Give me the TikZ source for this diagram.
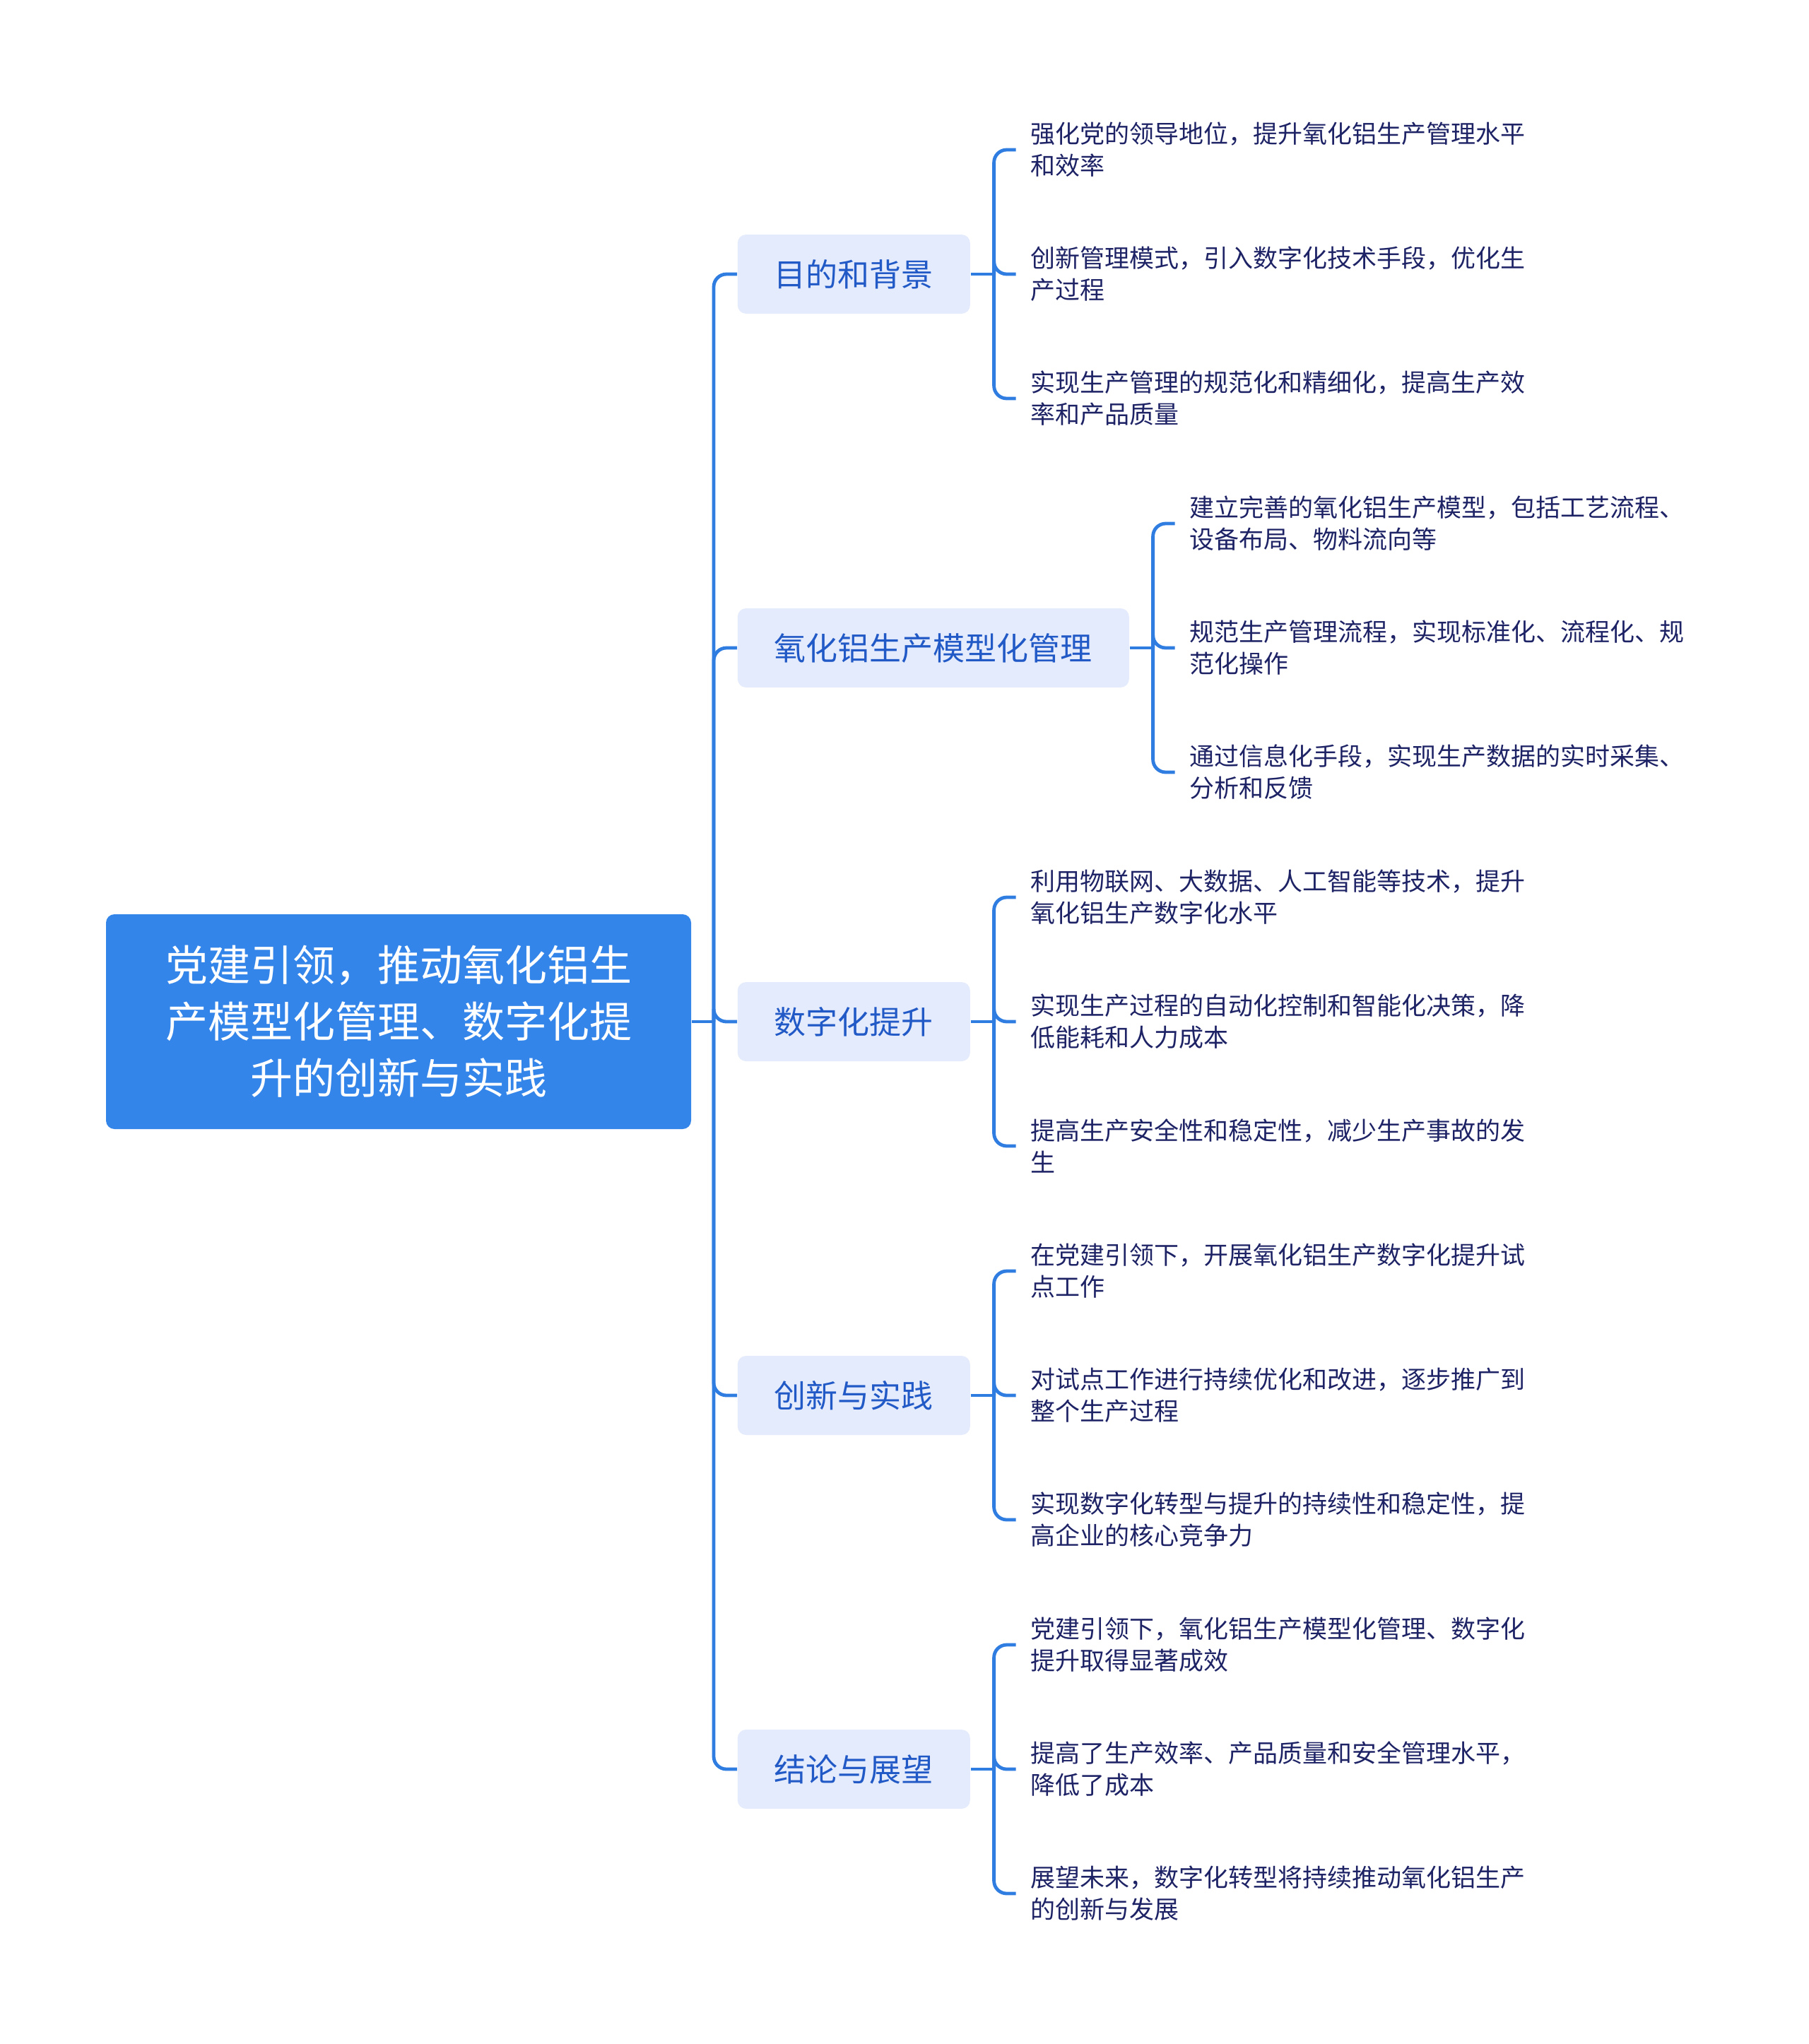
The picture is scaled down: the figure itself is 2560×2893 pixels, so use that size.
\documentclass[tikz,border=0pt]{standalone}
\usepackage{fontspec}
\setmainfont{Noto Sans CJK SC}
\definecolor{linec}{HTML}{2F7DE1}
\definecolor{rootc}{HTML}{3385EA}
\definecolor{branchc}{HTML}{E4EBFC}
\definecolor{branchtext}{HTML}{2159C6}
\definecolor{leafc}{HTML}{1E2366}
\begin{document}
\begin{tikzpicture}[x=0.25pt,y=-0.25pt,
  rootbox/.style={fill=rootc, rounded corners=3pt, minimum width=207pt, minimum height=76pt, text=white, font=\fontsize{15pt}{20pt}\selectfont, align=center, inner sep=0pt},
  branchbox/.style={fill=branchc, rounded corners=3pt, minimum height=28pt, inner xsep=13pt, inner ysep=0pt, text=branchtext, font=\fontsize{11.25pt}{14pt}\selectfont, anchor=west},
  leaftext/.style={anchor=west, align=left, inner xsep=5pt, inner ysep=0pt, text=leafc, font=\fontsize{8.75pt}{11.25pt}\selectfont},
  conn/.style={draw=linec, line width=1.2pt, rounded corners=4.5pt}
]
\useasboundingbox (0,0) rectangle (2560,2893);

\node[rootbox] (root) at (564,1446) {党建引领，推动氧化铝生\\产模型化管理、数字化提\\升的创新与实践};
\coordinate (tj) at (1010,1446);
\draw[conn] (root.east) -- (tj);

% branches
\node[branchbox] (b1) at (1043,388) {目的和背景};
\node[branchbox] (b2) at (1043,917) {氧化铝生产模型化管理};
\node[branchbox] (b3) at (1043,1446) {数字化提升};
\node[branchbox] (b4) at (1043,1975) {创新与实践};
\node[branchbox] (b5) at (1043,2504) {结论与展望};

\foreach \b in {b1,b2,b3,b4,b5}{
  \draw[conn] (tj) |- (\b.west);
}

% bracket joints
\foreach \i in {1,...,5}{
  \coordinate (k\i) at ([xshift=8.25pt]b\i.east);
  \draw[conn] (b\i.east) -- (k\i);
}

% leaves group 1
\node[leaftext] (l11) at ([xshift=7.75pt,yshift=44pt]k1) {强化党的领导地位，提升氧化铝生产管理水平\\和效率};
\node[leaftext] (l12) at ([xshift=7.75pt]k1) {创新管理模式，引入数字化技术手段，优化生\\产过程};
\node[leaftext] (l13) at ([xshift=7.75pt,yshift=-44pt]k1) {实现生产管理的规范化和精细化，提高生产效\\率和产品质量};
% group 2
\node[leaftext] (l21) at ([xshift=7.75pt,yshift=44pt]k2) {建立完善的氧化铝生产模型，包括工艺流程、\\设备布局、物料流向等};
\node[leaftext] (l22) at ([xshift=7.75pt]k2) {规范生产管理流程，实现标准化、流程化、规\\范化操作};
\node[leaftext] (l23) at ([xshift=7.75pt,yshift=-44pt]k2) {通过信息化手段，实现生产数据的实时采集、\\分析和反馈};
% group 3
\node[leaftext] (l31) at ([xshift=7.75pt,yshift=44pt]k3) {利用物联网、大数据、人工智能等技术，提升\\氧化铝生产数字化水平};
\node[leaftext] (l32) at ([xshift=7.75pt]k3) {实现生产过程的自动化控制和智能化决策，降\\低能耗和人力成本};
\node[leaftext] (l33) at ([xshift=7.75pt,yshift=-44pt]k3) {提高生产安全性和稳定性，减少生产事故的发\\生};
% group 4
\node[leaftext] (l41) at ([xshift=7.75pt,yshift=44pt]k4) {在党建引领下，开展氧化铝生产数字化提升试\\点工作};
\node[leaftext] (l42) at ([xshift=7.75pt]k4) {对试点工作进行持续优化和改进，逐步推广到\\整个生产过程};
\node[leaftext] (l43) at ([xshift=7.75pt,yshift=-44pt]k4) {实现数字化转型与提升的持续性和稳定性，提\\高企业的核心竞争力};
% group 5
\node[leaftext] (l51) at ([xshift=7.75pt,yshift=44pt]k5) {党建引领下，氧化铝生产模型化管理、数字化\\提升取得显著成效};
\node[leaftext] (l52) at ([xshift=7.75pt]k5) {提高了生产效率、产品质量和安全管理水平，\\降低了成本};
\node[leaftext] (l53) at ([xshift=7.75pt,yshift=-44pt]k5) {展望未来，数字化转型将持续推动氧化铝生产\\的创新与发展};

\foreach \i in {1,...,5}{
  \foreach \j in {1,2,3}{
    \draw[conn] (k\i) |- (l\i\j.west);
  }
}
\end{tikzpicture}
\end{document}
